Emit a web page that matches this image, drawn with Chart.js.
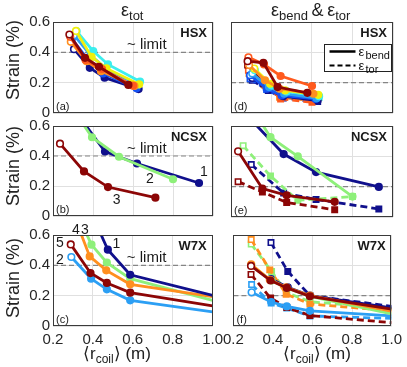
<!DOCTYPE html>
<html>
<head>
<meta charset="utf-8">
<script src="https://cdn.jsdelivr.net/npm/chart.js@4.4.0/dist/chart.umd.min.js"></script>
<style>
body{margin:0;background:#fff;width:407px;height:367px;overflow:hidden;position:relative;font-family:"Liberation Sans",Arial,sans-serif;color:#222;}
canvas{position:absolute;}
.t{position:absolute;white-space:nowrap;line-height:18px;}
.sb{font-size:13px;position:relative;top:4px;}
.yl{position:absolute;width:100px;height:20px;line-height:20px;text-align:center;font-size:18px;transform:rotate(-90deg);}
</style>
</head>
<body>
<canvas id="pa"></canvas><canvas id="pd"></canvas>
<canvas id="pb"></canvas><canvas id="pe"></canvas>
<canvas id="pc"></canvas><canvas id="pf"></canvas>

<div class="t" style="left:121px;top:1px;font-size:18px">ε<span class="sb">tot</span></div>
<div class="t" style="left:271px;top:1px;font-size:18px">ε<span class="sb">bend</span>&thinsp;&amp;&thinsp;ε<span class="sb">tor</span></div>
<div class="yl" style="left:-37px;top:50px">Strain (%)</div>
<div class="yl" style="left:-37px;top:156px">Strain (%)</div>
<div class="yl" style="left:-37px;top:268px">Strain (%)</div>
<div class="t" style="left:83px;top:345px;font-size:17px;line-height:17px">⟨r<span class="sb" style="font-size:12px">coil</span>⟩ (m)</div>
<div class="t" style="left:283px;top:345px;font-size:17px;line-height:17px">⟨r<span class="sb" style="font-size:12px">coil</span>⟩ (m)</div>

<script>
// axes
const X_TICKS = [0.2, 0.4, 0.6, 0.8, 1.0];
const Y_TICKS = [0, 0.2, 0.4, 0.6];
const LIMIT_TOT = 0.4;
const LIMIT_PART = 0.2;

// HSX, eight coil sets (dark blue ... dark red)
const hsxColors = ['#10108c','#1452f2','#2c9ff4','#3ceeee','#f0f00c','#ff8f1f','#ff5a1e','#8c0606'];
const hsxR = [
  [0.305,0.384,0.458,0.628],
  [0.294,0.376,0.450,0.618],
  [0.305,0.388,0.463,0.623],
  [0.318,0.401,0.475,0.635],
  [0.315,0.393,0.467,0.631],
  [0.289,0.368,0.440,0.607],
  [0.286,0.363,0.445,0.600],
  [0.282,0.360,0.430,0.577]
];
const hsxTot = [
  [0.421,0.298,0.233,0.158],
  [0.490,0.349,0.261,0.163],
  [0.513,0.381,0.294,0.185],
  [0.539,0.408,0.320,0.207],
  [0.541,0.370,0.294,0.189],
  [0.469,0.342,0.276,0.178],
  [0.502,0.349,0.290,0.180],
  [0.517,0.364,0.305,0.185]
];
const hsxBend = [
  [0.231,0.153,0.111,0.082],
  [0.249,0.160,0.116,0.093],
  [0.260,0.171,0.127,0.098],
  [0.282,0.182,0.142,0.111],
  [0.293,0.193,0.149,0.120],
  [0.316,0.216,0.160,0.127],
  [0.367,0.320,0.244,0.178],
  [0.342,0.331,0.171,0.133]
];
const hsxTor = [
  [0.216,0.149,0.098,0.076],
  [0.225,0.155,0.105,0.080],
  [0.235,0.160,0.112,0.085],
  [0.252,0.175,0.130,0.102],
  [0.249,0.171,0.127,0.104],
  [0.260,0.182,0.104,0.082],
  [0.282,0.204,0.093,0.071],
  [0.316,0.193,0.171,0.127]
];

// NCSX, configs 1..3
const ncsxColors = ['#10108c','#8ef07a','#8c0606'];
const ncsxR = [
  [0.30,0.46,0.62,0.93],
  [0.26,0.395,0.53,0.80],
  [0.235,0.355,0.475,0.712]
];
const ncsxTot  = [[0.72,0.43,0.35,0.22],[0.79,0.525,0.395,0.245],[0.482,0.297,0.193,0.122]];
const ncsxBend = [[0.64,0.415,0.296,0.198],[0.81,0.526,0.40,0.135],[0.433,0.187,0.143,0.10]];
const ncsxTor  = [[0.346,0.158,0.116,0.053],[0.47,0.27,0.11,0.135],[0.233,0.165,0.096,0.048]];

// W7X, configs 1..5
const w7xColors = ['#10108c','#2c9ff4','#8ef07a','#ff8f1f','#8c0606'];
const w7xR = [
  [0.39,0.475,0.587,1.0],
  [0.292,0.391,0.47,0.587,1.0],
  [0.29,0.393,0.47,0.587,1.0],
  [0.29,0.384,0.467,0.587,1.0],
  [0.289,0.388,0.47,0.587,1.0]
];
const w7xTot = [
  [0.75,0.503,0.338,0.202],
  [0.455,0.312,0.242,0.169,0.093],
  [0.83,0.536,0.418,0.312,0.169],
  [0.78,0.459,0.367,0.275,0.193],
  [0.538,0.349,0.284,0.22,0.133]
];
const w7xBend = [
  [0.31,0.255,0.20,0.12],
  [0.222,0.158,0.129,0.10,0.067],
  [0.40,0.30,0.25,0.195,0.08],
  [0.407,0.305,0.255,0.20,0.098],
  [0.396,0.30,0.251,0.196,0.111]
];
const w7xTor = [
  [0.55,0.36,0.20,0.13],
  [0.273,0.151,0.118,0.066,0.05],
  [0.54,0.36,0.22,0.16,0.115],
  [0.57,0.37,0.21,0.145,0.10],
  [0.34,0.184,0.122,0.069,0.022]
];

Chart.defaults.font.family = '"Liberation Sans", Arial, sans-serif';
Chart.defaults.color = '#262626';

function series(xs, ys, color, dashed) {
  return {
    data: xs.map((x, i) => ({x: x, y: ys[i]})),
    showLine: true,
    borderColor: color,
    borderWidth: 2.8,
    borderDash: dashed ? [7, 4] : [],
    pointStyle: dashed ? 'rect' : 'circle',
    pointRadius: xs.map(x => x >= 1 ? 0 : (dashed ? 3.8 : 3.3)),
    pointBackgroundColor: xs.map((x, i) => i == 0 ? '#fff' : color),
    pointBorderColor: color,
    pointBorderWidth: 1.6,
    clip: 0
  };
}
function limitLine(v) {
  return {
    data: [{x: X_TICKS[0], y: v}, {x: X_TICKS[X_TICKS.length - 1], y: v}],
    showLine: true, borderColor: '#858585', borderWidth: 1.2, borderDash: [5, 3],
    pointRadius: 0, clip: 0
  };
}

function deco(notes, legend) {
  return {
    id: 'deco',
    afterDraw(chart) {
      const ctx = chart.ctx, ca = chart.chartArea;
      const xs = chart.scales.x, ys = chart.scales.y;
      ctx.save();
      ctx.strokeStyle = '#3a3a3a'; ctx.lineWidth = 1;
      ctx.strokeRect(Math.round(ca.left) + 0.5, Math.round(ca.top) + 0.5, Math.round(ca.width) - 1, Math.round(ca.height) - 1);
      notes.forEach(n => {
        ctx.font = n.font || '14px "Liberation Sans", Arial';
        ctx.fillStyle = '#1a1a1a';
        ctx.textAlign = n.align || 'center';
        ctx.textBaseline = n.base || 'middle';
        let px, py;
        if (n.at == 'tr') { px = ca.right - 6; py = ca.top + 15; }
        else if (n.at == 'bl') { px = ca.left + 3; py = ca.bottom - 3; }
        else { px = xs.getPixelForValue(n.x); py = ys.getPixelForValue(n.y); }
        ctx.fillText(n.text, px + (n.dx || 0), py + (n.dy || 0));
      });
      if (legend) {
        const bx = Math.round(ca.right) - 68.5, by = Math.round(ca.top) + 22.5, bw = 67, bh = 27;
        ctx.fillStyle = '#fff'; ctx.fillRect(bx, by, bw, bh);
        ctx.strokeStyle = '#222'; ctx.lineWidth = 1; ctx.strokeRect(bx, by, bw, bh);
        ctx.strokeStyle = '#000'; ctx.lineWidth = 2.5;
        ctx.beginPath(); ctx.moveTo(bx + 5, by + 7); ctx.lineTo(bx + 31, by + 7); ctx.stroke();
        ctx.setLineDash([5, 3]); ctx.lineWidth = 2;
        ctx.beginPath(); ctx.moveTo(bx + 5, by + 21); ctx.lineTo(bx + 31, by + 21); ctx.stroke();
        ctx.setLineDash([]);
        ctx.fillStyle = '#111'; ctx.textAlign = 'left'; ctx.textBaseline = 'alphabetic';
        ctx.font = '13px "Liberation Sans", Arial';
        ctx.fillText('ε', bx + 34, by + 11); ctx.fillText('ε', bx + 34, by + 25);
        ctx.font = '11px "Liberation Sans", Arial';
        ctx.fillText('bend', bx + 41, by + 14); ctx.fillText('tor', bx + 41, by + 28);
      }
      ctx.restore();
    }
  };
}

// panel boxes: canvas left/top/size, plot padding, fixed axis sizes
const COL = [{l: 0, w: 228, yw: 53, pr: 15}, {l: 218, w: 189, yw: 13, pr: 14}];
const ROW = [{t: 0, h: 125, pt: 22, xh: 12}, {t: 114, h: 114, pt: 12, xh: 11}, {t: 216, h: 151, pt: 19, xh: 41}];

function panel(id, c, r, datasets, notes, legend) {
  const col = COL[c], row = ROW[r];
  const cv = document.getElementById(id);
  cv.width = col.w; cv.height = row.h;
  cv.style.left = col.l + 'px'; cv.style.top = row.t + 'px';
  new Chart(cv, {
    type: 'scatter',
    data: {datasets: datasets},
    options: {
      responsive: false, animation: false, devicePixelRatio: 1,
      layout: {padding: {top: row.pt, right: col.pr, left: 0, bottom: 0}},
      plugins: {legend: {display: false}, tooltip: {enabled: false}},
      scales: {
        x: {
          type: 'linear', min: 0.2, max: 1.0,
          afterBuildTicks: s => { s.ticks = X_TICKS.map(v => ({value: v})); },
          ticks: {display: r == 2, padding: 5, font: {size: 15}, maxRotation: 0, callback: v => v.toFixed(1)},
          grid: {color: '#e0e0e0', drawTicks: false},
          border: {display: false},
          afterFit: s => { s.height = row.xh; }
        },
        y: {
          type: 'linear', min: 0, max: 0.6,
          afterBuildTicks: s => { s.ticks = Y_TICKS.map(v => ({value: v})); },
          ticks: {display: c == 0, padding: 3, font: {size: 15}, callback: v => v == 0 ? '0' : v.toFixed(1)},
          grid: {color: '#e0e0e0', drawTicks: false},
          border: {display: false},
          afterFit: s => { s.width = col.yw; }
        }
      }
    },
    plugins: [deco(notes, legend)]
  });
}

const boldF = 'bold 13px "Liberation Sans", Arial';
const tagF = '11px "Liberation Sans", Arial';
const limNote = v => ({text: '~ limit', x: 0.57, y: v, dy: -3, align: 'left', base: 'alphabetic', font: '15px "Liberation Sans", Arial'});

// (a) HSX total
let ds = [];
for (let i = 7; i >= 0; i--) ds.push(series(hsxR[i], hsxTot[i], hsxColors[i], false));
ds.push(limitLine(LIMIT_TOT));
panel('pa', 0, 0, ds, [
  {text: 'HSX', at: 'tr', align: 'right', base: 'alphabetic', font: boldF},
  {text: '(a)', at: 'bl', align: 'left', base: 'alphabetic', font: tagF},
  limNote(LIMIT_TOT)
]);

// (d) HSX bend & tor
ds = [];
for (let i = 7; i >= 0; i--) ds.push(series(hsxR[i], hsxBend[i], hsxColors[i], false));
for (let i = 7; i >= 0; i--) ds.push(series(hsxR[i], hsxTor[i], hsxColors[i], true));
ds.push(limitLine(LIMIT_PART));
panel('pd', 1, 0, ds, [
  {text: 'HSX', at: 'tr', align: 'right', base: 'alphabetic', font: boldF},
  {text: '(d)', at: 'bl', align: 'left', base: 'alphabetic', font: tagF}
], true);

// (b) NCSX total
ds = [];
[2, 1, 0].forEach(i => ds.push(series(ncsxR[i], ncsxTot[i], ncsxColors[i], false)));
ds.push(limitLine(LIMIT_TOT));
panel('pb', 0, 1, ds, [
  {text: 'NCSX', at: 'tr', align: 'right', base: 'alphabetic', font: boldF},
  {text: '(b)', at: 'bl', align: 'left', base: 'alphabetic', font: tagF},
  limNote(LIMIT_TOT),
  {text: '1', x: 0.955, y: 0.294},
  {text: '2', x: 0.685, y: 0.246},
  {text: '3', x: 0.518, y: 0.108}
]);

// (e) NCSX bend & tor
ds = [];
[2, 1, 0].forEach(i => ds.push(series(ncsxR[i], ncsxBend[i], ncsxColors[i], false)));
[2, 1, 0].forEach(i => ds.push(series(ncsxR[i], ncsxTor[i], ncsxColors[i], true)));
ds.push(limitLine(LIMIT_PART));
panel('pe', 1, 1, ds, [
  {text: 'NCSX', at: 'tr', align: 'right', base: 'alphabetic', font: boldF},
  {text: '(e)', at: 'bl', align: 'left', base: 'alphabetic', font: tagF}
]);

// (c) W7X total
ds = [];
[0, 3, 2, 4, 1].forEach(i => ds.push(series(w7xR[i], w7xTot[i], w7xColors[i], false)));
ds.push(limitLine(LIMIT_TOT));
panel('pc', 0, 2, ds, [
  {text: 'W7X', at: 'tr', align: 'right', base: 'alphabetic', font: boldF},
  {text: '(c)', at: 'bl', align: 'left', base: 'alphabetic', font: tagF},
  limNote(LIMIT_TOT),
  {text: '1', x: 0.518, y: 0.537},
  {text: '2', x: 0.235, y: 0.434},
  {text: '5', x: 0.235, y: 0.549},
  {text: '4', x: 0.315, y: 0.629},
  {text: '3', x: 0.36, y: 0.629}
]);

// (f) W7X bend & tor
ds = [];
[4, 3, 2, 0, 1].forEach(i => ds.push(series(w7xR[i], w7xBend[i], w7xColors[i], false)));
[0, 3, 2, 4, 1].forEach(i => ds.push(series(w7xR[i], w7xTor[i], w7xColors[i], true)));
ds.push(limitLine(LIMIT_PART));
panel('pf', 1, 2, ds, [
  {text: 'W7X', at: 'tr', align: 'right', base: 'alphabetic', font: boldF},
  {text: '(f)', at: 'bl', align: 'left', base: 'alphabetic', font: tagF}
]);
</script>
</body>
</html>
